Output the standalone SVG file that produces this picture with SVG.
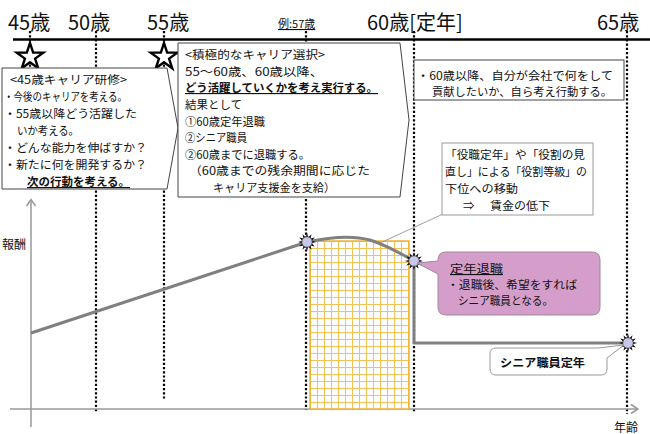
<svg xmlns="http://www.w3.org/2000/svg" width="650" height="434" viewBox="0 0 650 434">
<style>
.t{font-family:"Noto Sans CJK JP","Noto Sans",sans-serif;fill:#111;}
.age{font-size:20px;}
.s{font-size:11.4px;}
.p{font-size:11px;}
.b{font-weight:bold;}
.u{text-decoration:underline;}
.dot{stroke:#000;stroke-width:2.2;stroke-dasharray:2.2 2;fill:none;}
.box{fill:#fff;stroke:#444;stroke-width:1;}
.axis{stroke:#999;stroke-width:1.5;fill:none;}
</style>
<defs>
<pattern id="grid" width="7" height="7" patternUnits="userSpaceOnUse" x="310" y="241">
<rect width="7" height="7" fill="#fff"/>
<path d="M0,0.5 H7 M0.5,0 V7" stroke="#f6c058" stroke-width="1"/>
</pattern>
<g id="burst">
<polygon points="9,0 4.83,1.29 7.79,4.5 3.54,3.54 4.5,7.79 1.29,4.83 0,9 -1.29,4.83 -4.5,7.79 -3.54,3.54 -7.79,4.5 -4.83,1.29 -9,0 -4.83,-1.29 -7.79,-4.5 -3.54,-3.54 -4.5,-7.79 -1.29,-4.83 0,-9 1.29,-4.83 4.5,-7.79 3.54,-3.54 7.79,-4.5 4.83,-1.29" fill="#111"/>
<circle r="5.2" fill="#c8c8ec" stroke="#555" stroke-width="0.8"/>
</g>
<polygon id="star5" points="0,-14 3.14,-4.33 13.31,-4.33 5.09,1.65 8.23,11.33 0,5.35 -8.23,11.33 -5.09,1.65 -13.31,-4.33 -3.14,-4.33" fill="#fff" stroke="#000" stroke-width="2.4" stroke-linejoin="miter"/>
</defs>

<g id="timeline">
<text class="t age" x="8" y="30">45歳</text>
<text class="t age" x="68" y="30">50歳</text>
<text class="t age" x="147" y="30">55歳</text>
<text class="t u" x="278" y="28" font-size="11">例:57歳</text>
<text class="t age" x="367" y="30">60歳[定年]</text>
<text class="t age" x="597" y="30">65歳</text>
<line x1="30" y1="31" x2="30" y2="68" class="dot"/>
<line x1="96" y1="31" x2="96" y2="413" class="dot"/>
<line x1="164" y1="31" x2="164" y2="400" class="dot"/>
<line x1="306" y1="31" x2="306" y2="410" class="dot"/>
<line x1="414" y1="31" x2="414" y2="413" class="dot"/>
<line x1="627" y1="31" x2="627" y2="414" class="dot"/>
<line x1="13" y1="39.5" x2="650" y2="39.5" stroke="#000" stroke-width="2.5"/>
<use href="#star5" x="30" y="57"/>
<use href="#star5" x="164" y="57"/>
</g>

<g id="box45">
<path class="box" d="M2,68 L167,68 L178,128 L167,189 L2,189 Z"/>
<text class="t s" x="10" y="84" textLength="117" lengthAdjust="spacingAndGlyphs">&lt;45歳キャリア研修&gt;</text>
<text class="t s" x="4" y="101" textLength="123" lengthAdjust="spacingAndGlyphs">・今後のキャリアを考える。</text>
<text class="t s" x="4" y="118" textLength="133" lengthAdjust="spacingAndGlyphs">・55歳以降どう活躍した</text>
<text class="t s" x="17" y="135" textLength="62" lengthAdjust="spacingAndGlyphs">いか考える。</text>
<text class="t s" x="4" y="152" textLength="143" lengthAdjust="spacingAndGlyphs">・どんな能力を伸ばすか？</text>
<text class="t s" x="4" y="169" textLength="143" lengthAdjust="spacingAndGlyphs">・新たに何を開発するか？</text>
<text class="t s b u" x="27" y="186" textLength="103" lengthAdjust="spacingAndGlyphs">次の行動を考える。</text>
</g>

<g id="box55">
<path class="box" d="M178,43 L400,43 L409,120 L400,197 L178,197 Z"/>
<text class="t s" x="185" y="59" textLength="140" lengthAdjust="spacingAndGlyphs">&lt;積極的なキャリア選択&gt;</text>
<text class="t s" x="185" y="76" textLength="138" lengthAdjust="spacingAndGlyphs">55～60歳、60歳以降、</text>
<text class="t s b u" x="185" y="92" textLength="193" lengthAdjust="spacingAndGlyphs">どう活躍していくかを考え実行する。</text>
<text class="t s" x="185" y="109" textLength="57" lengthAdjust="spacingAndGlyphs">結果として</text>
<text class="t s" x="185" y="126" textLength="80" lengthAdjust="spacingAndGlyphs">①60歳定年退職</text>
<text class="t s" x="185" y="142" textLength="62" lengthAdjust="spacingAndGlyphs">②シニア職員</text>
<text class="t s" x="185" y="159" textLength="125" lengthAdjust="spacingAndGlyphs">②60歳までに退職する。</text>
<text class="t s" x="189" y="175" textLength="181" lengthAdjust="spacingAndGlyphs">（60歳までの残余期間に応じた</text>
<text class="t s" x="213" y="192" textLength="122" lengthAdjust="spacingAndGlyphs">キャリア支援金を支給）</text>
</g>

<g id="box60">
<rect class="box" x="414" y="60" width="210" height="40"/>
<text class="t s" x="417" y="80" textLength="196" lengthAdjust="spacingAndGlyphs">・60歳以降、自分が会社で何をして</text>
<text class="t s" x="432" y="96" textLength="180" lengthAdjust="spacingAndGlyphs">貢献したいか、自ら考え行動する。</text>
</g>

<g id="chart">
<line x1="31" y1="427" x2="31" y2="200" class="axis"/>
<polyline points="26.5,206 31,199.5 35.5,206" class="axis"/>
<line x1="10" y1="409" x2="638" y2="409" class="axis"/>
<polyline points="631,404.5 638,409 631,413.5" class="axis"/>
<text class="t" x="2" y="249" font-size="12">報酬</text>
<text class="t" x="614" y="432" font-size="12">年齢</text>
<rect x="310" y="241" width="99" height="168" fill="url(#grid)" stroke="#f2b234" stroke-width="1.5"/>
</g>

<g id="connectors">
<line x1="443" y1="214" x2="380" y2="243" stroke="#a0a0a0" stroke-width="1"/>
<path d="M31,333 L307,242 C330,237 352,235 370,240 C388,246 402,254 414,261 L414,343 L628,343" fill="none" stroke="#808080" stroke-width="3" stroke-linejoin="round"/>
</g>

<g id="markers">
<use href="#burst" x="307" y="242"/>
<use href="#burst" x="414" y="261"/>
<use href="#burst" x="628" y="343"/>
</g>

<g id="callout-wage">
<rect x="442" y="143" width="151" height="72" fill="#fff" stroke="#9a9a9a" stroke-width="1"/>
<text class="t s" x="445" y="159" textLength="140" lengthAdjust="spacingAndGlyphs">「役職定年」や「役割の見</text>
<text class="t s" x="445" y="176" textLength="142" lengthAdjust="spacingAndGlyphs">直し」による「役割等級」の</text>
<text class="t s" x="445" y="193" textLength="73" lengthAdjust="spacingAndGlyphs">下位への移動</text>
<text class="t s" x="463" y="210">⇒</text>
<text class="t s" x="490" y="210" textLength="60" lengthAdjust="spacingAndGlyphs">賃金の低下</text>
</g>

<g id="callout-retire">
<path d="M446,252 H592 Q600,252 600,260 V307 Q600,315 592,315 H446 Q438,315 438,307 V274 L417,263 L438,261 V260 Q438,252 446,252 Z" fill="#d49dca" stroke="#9e8a9a" stroke-width="1"/>
<text class="t p u" x="450" y="273" textLength="53" lengthAdjust="spacingAndGlyphs">定年退職</text>
<text class="t p" x="447" y="289" textLength="130" lengthAdjust="spacingAndGlyphs">・退職後、希望をすれば</text>
<text class="t p" x="458" y="305" textLength="95" lengthAdjust="spacingAndGlyphs">シニア職員となる。</text>
</g>

<g id="callout-senior">
<path d="M496,348 H598 L624,345 L607,358 V369 Q607,375 601,375 H496 Q490,375 490,369 V354 Q490,348 496,348 Z" fill="#fff" stroke="#9a9a9a" stroke-width="1"/>
<text class="t s b" x="500" y="367" textLength="85" lengthAdjust="spacingAndGlyphs">シニア職員定年</text>
</g>
</svg>
